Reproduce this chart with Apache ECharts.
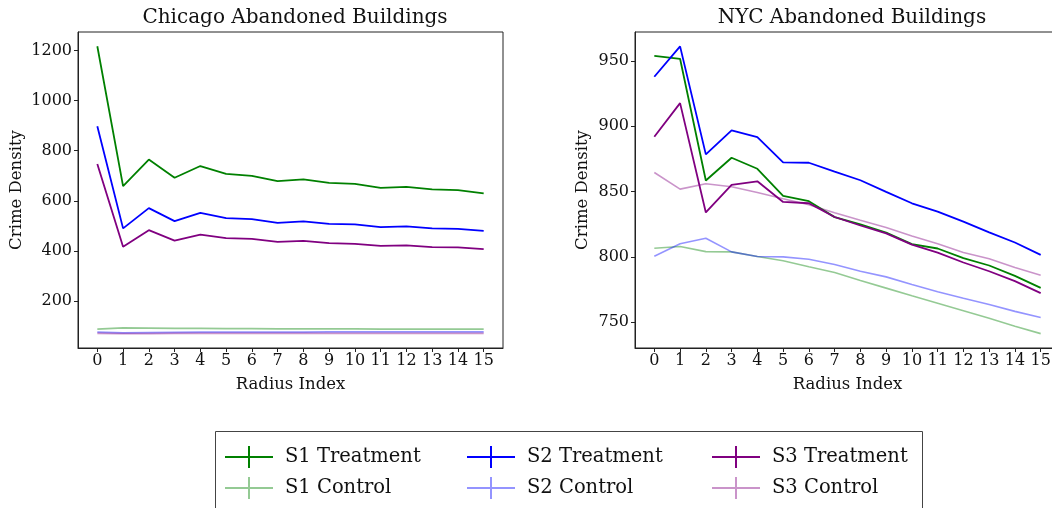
<!DOCTYPE html>
<html><head><meta charset="utf-8">
<script src="https://cdn.jsdelivr.net/npm/echarts@6/dist/echarts.min.js"></script>
<style>html,body{margin:0;padding:0;background:#fff}#c{width:1052px;height:508px}</style>
</head><body><div id="c"></div>
<script>
const radius = [0,1,2,3,4,5,6,7,8,9,10,11,12,13,14,15];
const chiTicks = [200,400,600,800,1000,1200];
const nycTicks = [750,800,850,900,950];

const chiS1T = [1217,659,765,692,739,708,700,679,686,672,668,652,656,646,643,630];
const chiS1C = [88,93,92,91,91,90,90,89,89,89,89,88,88,88,88,88];
const chiS2T = [898,490,571,519,552,531,527,512,518,508,506,495,498,490,488,480];
const chiS2C = [76,73,74,75,76,76,76,76,76,77,77,77,77,77,77,77];
const chiS3T = [747,417,483,441,465,451,448,436,440,431,428,420,422,415,414,407];
const chiS3C = [71,70,70,71,71,71,71,71,71,71,71,71,71,71,71,71];

const nycS1T = [953.8,951.5,858.4,875.8,867.4,846.7,842.6,830.4,824.8,818.6,809.7,806.4,799.0,793.4,785.5,776.3];
const nycS1C = [806.6,807.9,804.0,803.8,800.3,797.0,792.4,788.0,782.0,776.1,770.2,764.6,758.8,753.0,747.0,741.3];
const nycS2T = [937.8,961.0,878.4,896.7,891.6,872.3,872.0,865.2,858.6,849.7,841.0,834.6,827.0,818.8,811.0,801.5];
const nycS2C = [800.5,810.0,814.3,803.8,800.3,800.0,798.2,794.1,789.0,784.7,778.9,773.3,768.4,763.6,758.3,753.7];
const nycS3T = [891.9,917.6,834.0,855.0,857.8,842.0,841.0,830.5,824.0,818.0,809.4,803.3,795.7,789.0,781.4,772.3];
const nycS3C = [864.5,851.8,855.9,853.6,849.2,844.4,839.8,833.7,828.0,822.4,816.0,810.0,803.3,798.5,791.9,786.0];

const names = ['S1 Treatment','S1 Control','S2 Treatment','S2 Control','S3 Treatment','S3 Control'];
const colors = {
  'S1 Treatment':'#008000','S1 Control':'rgba(0,128,0,0.42)',
  'S2 Treatment':'#0000ff','S2 Control':'rgba(0,0,255,0.42)',
  'S3 Treatment':'#800080','S3 Control':'rgba(128,0,128,0.42)'
};
const chiData = [chiS1T,chiS1C,chiS2T,chiS2C,chiS3T,chiS3C];
const nycData = [nycS1T,nycS1C,nycS2T,nycS2C,nycS3T,nycS3C];

const FONT = 'DejaVu Serif';
const axisColor = '#222';

function xAxis(gi){
  return {type:'value', gridIndex:gi, min:-0.75, max:15.75,
    name:'Radius Index', nameLocation:'middle', nameGap:28,
    nameTextStyle:{fontFamily:FONT,fontSize:16.5,color:'#111'},
    axisLine:{show:true,onZero:false,lineStyle:{color:axisColor}},
    axisTick:{show:true,length:4,customValues:radius,lineStyle:{color:axisColor}},
    axisLabel:{customValues:radius,fontFamily:FONT,fontSize:16,color:'#111',margin:5,
      formatter:v=>String(v)},
    splitLine:{show:false}};
}
function yAxis(gi,min,max,ticks,gap){
  return {type:'value', gridIndex:gi, min:min, max:max,
    name:'Crime Density', nameLocation:'middle', nameGap:gap, nameRotate:90,
    nameTextStyle:{fontFamily:FONT,fontSize:16.5,color:'#111'},
    axisLine:{show:true,onZero:false,lineStyle:{color:axisColor}},
    axisTick:{show:true,length:4,customValues:ticks,lineStyle:{color:axisColor}},
    axisLabel:{customValues:ticks,fontFamily:FONT,fontSize:16,color:'#111',margin:6,
      formatter:v=>String(v)},
    splitLine:{show:false}};
}

const series = [];
[chiData,nycData].forEach((set,gi)=>{
  set.forEach((vals,k)=>{
    const nm = names[k];
    const isT = nm.indexOf('Treatment')>=0;
    series.push({type:'line', name:nm, xAxisIndex:gi, yAxisIndex:gi,
      data: radius.map((r,i)=>[r, vals[i]]),
      showSymbol:false, symbol:'none', silent:true, animation:false,
      lineStyle:{color:colors[nm], width:isT?1.8:1.6},
      itemStyle:{color:colors[nm]}});
  });
});

const icon = 'path://M0,10 L48,10 L48,12 L0,12 Z M23,0 L25,0 L25,22 L23,22 Z';
function legendCol(left, items){
  return {orient:'vertical', left:left, top:446, itemGap:9, itemWidth:48, itemHeight:22,
    icon:icon, selectedMode:false, padding:0,
    textStyle:{fontFamily:FONT,fontSize:19.5,color:'#111',padding:[0,0,0,7]},
    data: items.map(n=>({name:n, icon:icon, itemStyle:{color:colors[n]}}))};
}

const option = {
  animation:false,
  backgroundColor:'#fff',
  title:[
    {text:'Chicago Abandoned Buildings', left:290, top:3, textAlign:'center',
     textStyle:{fontFamily:FONT,fontSize:20,fontWeight:'normal',color:'#111'}},
    {text:'NYC Abandoned Buildings', left:847, top:3, textAlign:'center',
     textStyle:{fontFamily:FONT,fontSize:20,fontWeight:'normal',color:'#111'}}
  ],
  grid:[
    {left:78, right:549, top:32, bottom:160, show:true, borderColor:axisColor, borderWidth:1,
     backgroundColor:'transparent', outerBoundsMode:'none', containLabel:false},
    {left:635, right:-8, top:32, bottom:160, show:true, borderColor:axisColor, borderWidth:1,
     backgroundColor:'transparent', outerBoundsMode:'none', containLabel:false}
  ],
  xAxis:[xAxis(0), xAxis(1)],
  yAxis:[yAxis(0,12.6,1274,chiTicks,53), yAxis(1,730.3,972,nycTicks,44)],
  legend:[
    legendCol(225,['S1 Treatment','S1 Control']),
    legendCol(467,['S2 Treatment','S2 Control']),
    legendCol(712,['S3 Treatment','S3 Control'])
  ],
  graphic:[{type:'rect', shape:{x:215.5,y:431.5,width:707,height:90},
    style:{fill:'none',stroke:'#444',lineWidth:1}, silent:true}],
  series:series
};
const chart = echarts.init(document.getElementById('c'), null, {renderer:'canvas'});
chart.setOption(option);
</script></body></html>
